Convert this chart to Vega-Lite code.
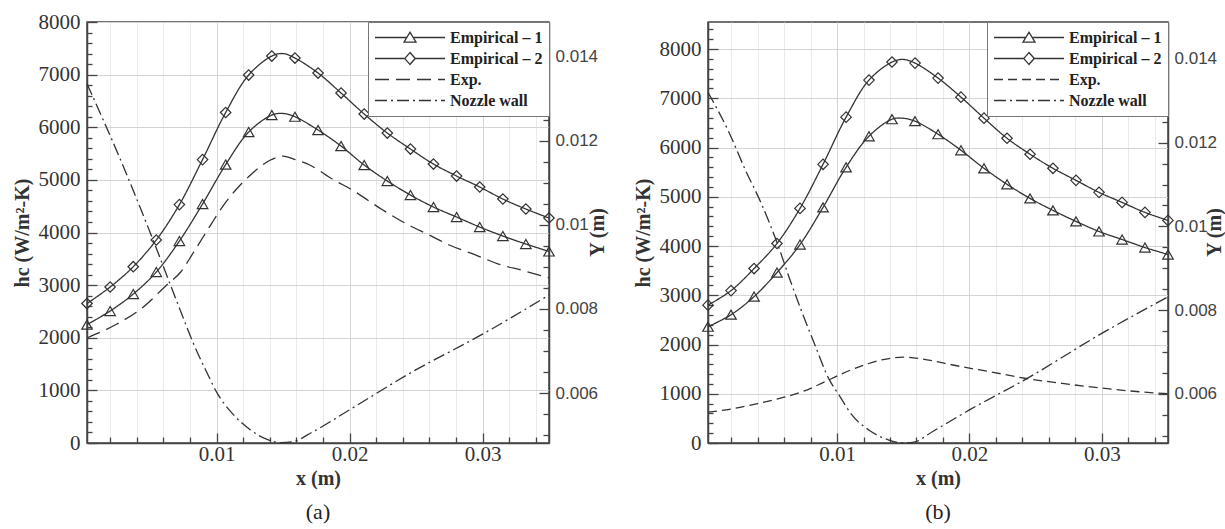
{
  "$schema": "https://vega.github.io/schema/vega-lite/v6.json",
  "padding": {"left": 11, "top": 10, "right": 0, "bottom": 0},
  "background": "white",
  "bounds": "flush",
  "spacing": 159,
  "datasets": {
    "a_hc": [
      {"series": "Empirical – 1", "x": 0.00025, "h": 2250},
      {"series": "Empirical – 1", "x": 0.00199, "h": 2508},
      {"series": "Empirical – 1", "x": 0.00373, "h": 2831},
      {"series": "Empirical – 1", "x": 0.00546, "h": 3249},
      {"series": "Empirical – 1", "x": 0.0072, "h": 3838},
      {"series": "Empirical – 1", "x": 0.00894, "h": 4541},
      {"series": "Empirical – 1", "x": 0.01068, "h": 5290},
      {"series": "Empirical – 1", "x": 0.01241, "h": 5909},
      {"series": "Empirical – 1", "x": 0.01415, "h": 6232},
      {"series": "Empirical – 1", "x": 0.015, "h": 6262},
      {"series": "Empirical – 1", "x": 0.01589, "h": 6200},
      {"series": "Empirical – 1", "x": 0.01763, "h": 5947},
      {"series": "Empirical – 1", "x": 0.01936, "h": 5643},
      {"series": "Empirical – 1", "x": 0.0211, "h": 5282},
      {"series": "Empirical – 1", "x": 0.02284, "h": 4978},
      {"series": "Empirical – 1", "x": 0.02458, "h": 4712},
      {"series": "Empirical – 1", "x": 0.02631, "h": 4484},
      {"series": "Empirical – 1", "x": 0.02805, "h": 4294},
      {"series": "Empirical – 1", "x": 0.02979, "h": 4104},
      {"series": "Empirical – 1", "x": 0.03153, "h": 3933},
      {"series": "Empirical – 1", "x": 0.03326, "h": 3781},
      {"series": "Empirical – 1", "x": 0.035, "h": 3640},
      {"series": "Empirical – 2", "x": 0.00025, "h": 2650},
      {"series": "Empirical – 2", "x": 0.00199, "h": 2964},
      {"series": "Empirical – 2", "x": 0.00373, "h": 3350},
      {"series": "Empirical – 2", "x": 0.00546, "h": 3857},
      {"series": "Empirical – 2", "x": 0.0072, "h": 4530},
      {"series": "Empirical – 2", "x": 0.00894, "h": 5385},
      {"series": "Empirical – 2", "x": 0.01068, "h": 6280},
      {"series": "Empirical – 2", "x": 0.01241, "h": 6992},
      {"series": "Empirical – 2", "x": 0.01415, "h": 7353},
      {"series": "Empirical – 2", "x": 0.015, "h": 7400},
      {"series": "Empirical – 2", "x": 0.01589, "h": 7315},
      {"series": "Empirical – 2", "x": 0.01763, "h": 7030},
      {"series": "Empirical – 2", "x": 0.01936, "h": 6650},
      {"series": "Empirical – 2", "x": 0.0211, "h": 6251},
      {"series": "Empirical – 2", "x": 0.02284, "h": 5890},
      {"series": "Empirical – 2", "x": 0.02458, "h": 5586},
      {"series": "Empirical – 2", "x": 0.02631, "h": 5301},
      {"series": "Empirical – 2", "x": 0.02805, "h": 5073},
      {"series": "Empirical – 2", "x": 0.02979, "h": 4864},
      {"series": "Empirical – 2", "x": 0.03153, "h": 4636},
      {"series": "Empirical – 2", "x": 0.03326, "h": 4446},
      {"series": "Empirical – 2", "x": 0.035, "h": 4275},
      {"series": "Exp.", "x": 0.00025, "h": 1995},
      {"series": "Exp.", "x": 0.0025, "h": 2261},
      {"series": "Exp.", "x": 0.0043, "h": 2546},
      {"series": "Exp.", "x": 0.00625, "h": 3002},
      {"series": "Exp.", "x": 0.0073, "h": 3249},
      {"series": "Exp.", "x": 0.00828, "h": 3629},
      {"series": "Exp.", "x": 0.00955, "h": 4142},
      {"series": "Exp.", "x": 0.01053, "h": 4522},
      {"series": "Exp.", "x": 0.0115, "h": 4826},
      {"series": "Exp.", "x": 0.01255, "h": 5092},
      {"series": "Exp.", "x": 0.01405, "h": 5377},
      {"series": "Exp.", "x": 0.015, "h": 5453},
      {"series": "Exp.", "x": 0.016, "h": 5377},
      {"series": "Exp.", "x": 0.017, "h": 5282},
      {"series": "Exp.", "x": 0.0187, "h": 5016},
      {"series": "Exp.", "x": 0.0202, "h": 4807},
      {"series": "Exp.", "x": 0.0225, "h": 4427},
      {"series": "Exp.", "x": 0.0243, "h": 4161},
      {"series": "Exp.", "x": 0.026, "h": 3952},
      {"series": "Exp.", "x": 0.0275, "h": 3762},
      {"series": "Exp.", "x": 0.0295, "h": 3572},
      {"series": "Exp.", "x": 0.0312, "h": 3400},
      {"series": "Exp.", "x": 0.033, "h": 3280},
      {"series": "Exp.", "x": 0.035, "h": 3140}
    ],
    "a_wall": [
      {"series": "Nozzle wall", "x": 0.00025, "Y": 0.01336},
      {"series": "Nozzle wall", "x": 0.0028, "Y": 0.01153},
      {"series": "Nozzle wall", "x": 0.00505, "Y": 0.00978},
      {"series": "Nozzle wall", "x": 0.0073, "Y": 0.00794},
      {"series": "Nozzle wall", "x": 0.00828, "Y": 0.00716},
      {"series": "Nozzle wall", "x": 0.00925, "Y": 0.0065},
      {"series": "Nozzle wall", "x": 0.01, "Y": 0.00602},
      {"series": "Nozzle wall", "x": 0.01128, "Y": 0.00548},
      {"series": "Nozzle wall", "x": 0.01255, "Y": 0.00512},
      {"series": "Nozzle wall", "x": 0.01375, "Y": 0.0049},
      {"series": "Nozzle wall", "x": 0.0148, "Y": 0.00482},
      {"series": "Nozzle wall", "x": 0.0157, "Y": 0.00484},
      {"series": "Nozzle wall", "x": 0.0172, "Y": 0.00507},
      {"series": "Nozzle wall", "x": 0.02, "Y": 0.0056},
      {"series": "Nozzle wall", "x": 0.0247, "Y": 0.0065},
      {"series": "Nozzle wall", "x": 0.03, "Y": 0.0074},
      {"series": "Nozzle wall", "x": 0.035, "Y": 0.00833}
    ],
    "b_hc": [
      {"series": "Empirical – 1", "x": 0.00025, "h": 2362},
      {"series": "Empirical – 1", "x": 0.00199, "h": 2606},
      {"series": "Empirical – 1", "x": 0.00373, "h": 2973},
      {"series": "Empirical – 1", "x": 0.00546, "h": 3461},
      {"series": "Empirical – 1", "x": 0.0072, "h": 4031},
      {"series": "Empirical – 1", "x": 0.00894, "h": 4785},
      {"series": "Empirical – 1", "x": 0.01068, "h": 5599},
      {"series": "Empirical – 1", "x": 0.01241, "h": 6230},
      {"series": "Empirical – 1", "x": 0.01415, "h": 6576},
      {"series": "Empirical – 1", "x": 0.015, "h": 6595},
      {"series": "Empirical – 1", "x": 0.01589, "h": 6536},
      {"series": "Empirical – 1", "x": 0.01763, "h": 6271},
      {"series": "Empirical – 1", "x": 0.01936, "h": 5945},
      {"series": "Empirical – 1", "x": 0.0211, "h": 5579},
      {"series": "Empirical – 1", "x": 0.02284, "h": 5253},
      {"series": "Empirical – 1", "x": 0.02458, "h": 4968},
      {"series": "Empirical – 1", "x": 0.02631, "h": 4724},
      {"series": "Empirical – 1", "x": 0.02805, "h": 4500},
      {"series": "Empirical – 1", "x": 0.02979, "h": 4296},
      {"series": "Empirical – 1", "x": 0.03153, "h": 4133},
      {"series": "Empirical – 1", "x": 0.03326, "h": 3970},
      {"series": "Empirical – 1", "x": 0.035, "h": 3828},
      {"series": "Empirical – 2", "x": 0.00025, "h": 2800},
      {"series": "Empirical – 2", "x": 0.00199, "h": 3095},
      {"series": "Empirical – 2", "x": 0.00373, "h": 3543},
      {"series": "Empirical – 2", "x": 0.00546, "h": 4052},
      {"series": "Empirical – 2", "x": 0.0072, "h": 4764},
      {"series": "Empirical – 2", "x": 0.00894, "h": 5660},
      {"series": "Empirical – 2", "x": 0.01068, "h": 6617},
      {"series": "Empirical – 2", "x": 0.01241, "h": 7370},
      {"series": "Empirical – 2", "x": 0.01415, "h": 7737},
      {"series": "Empirical – 2", "x": 0.015, "h": 7790},
      {"series": "Empirical – 2", "x": 0.01589, "h": 7716},
      {"series": "Empirical – 2", "x": 0.01763, "h": 7411},
      {"series": "Empirical – 2", "x": 0.01936, "h": 7024},
      {"series": "Empirical – 2", "x": 0.0211, "h": 6597},
      {"series": "Empirical – 2", "x": 0.02284, "h": 6189},
      {"series": "Empirical – 2", "x": 0.02458, "h": 5864},
      {"series": "Empirical – 2", "x": 0.02631, "h": 5579},
      {"series": "Empirical – 2", "x": 0.02805, "h": 5334},
      {"series": "Empirical – 2", "x": 0.02979, "h": 5090},
      {"series": "Empirical – 2", "x": 0.03153, "h": 4886},
      {"series": "Empirical – 2", "x": 0.03326, "h": 4683},
      {"series": "Empirical – 2", "x": 0.035, "h": 4520},
      {"series": "Exp.", "x": 0.00025, "h": 625},
      {"series": "Exp.", "x": 0.002, "h": 690},
      {"series": "Exp.", "x": 0.004, "h": 800},
      {"series": "Exp.", "x": 0.006, "h": 930},
      {"series": "Exp.", "x": 0.0074, "h": 1045},
      {"series": "Exp.", "x": 0.0089, "h": 1220},
      {"series": "Exp.", "x": 0.0104, "h": 1410},
      {"series": "Exp.", "x": 0.012, "h": 1580},
      {"series": "Exp.", "x": 0.0136, "h": 1700},
      {"series": "Exp.", "x": 0.015, "h": 1745},
      {"series": "Exp.", "x": 0.0165, "h": 1705},
      {"series": "Exp.", "x": 0.018, "h": 1625},
      {"series": "Exp.", "x": 0.0195, "h": 1545},
      {"series": "Exp.", "x": 0.0215, "h": 1450},
      {"series": "Exp.", "x": 0.0243, "h": 1310},
      {"series": "Exp.", "x": 0.027, "h": 1210},
      {"series": "Exp.", "x": 0.0298, "h": 1120},
      {"series": "Exp.", "x": 0.032, "h": 1060},
      {"series": "Exp.", "x": 0.035, "h": 1000}
    ],
    "b_wall": [
      {"series": "Nozzle wall", "x": 0.00025, "Y": 0.0132},
      {"series": "Nozzle wall", "x": 0.00183, "Y": 0.01225},
      {"series": "Nozzle wall", "x": 0.00304, "Y": 0.01137},
      {"series": "Nozzle wall", "x": 0.00433, "Y": 0.01051},
      {"series": "Nozzle wall", "x": 0.00553, "Y": 0.00956},
      {"series": "Nozzle wall", "x": 0.00636, "Y": 0.0088},
      {"series": "Nozzle wall", "x": 0.00734, "Y": 0.00796},
      {"series": "Nozzle wall", "x": 0.00833, "Y": 0.00717},
      {"series": "Nozzle wall", "x": 0.00938, "Y": 0.00636},
      {"series": "Nozzle wall", "x": 0.01014, "Y": 0.00598},
      {"series": "Nozzle wall", "x": 0.01112, "Y": 0.0055},
      {"series": "Nozzle wall", "x": 0.0124, "Y": 0.00514},
      {"series": "Nozzle wall", "x": 0.01391, "Y": 0.0049},
      {"series": "Nozzle wall", "x": 0.0149, "Y": 0.00483},
      {"series": "Nozzle wall", "x": 0.0158, "Y": 0.00485},
      {"series": "Nozzle wall", "x": 0.0172, "Y": 0.0051},
      {"series": "Nozzle wall", "x": 0.02, "Y": 0.00562},
      {"series": "Nozzle wall", "x": 0.0243, "Y": 0.00636},
      {"series": "Nozzle wall", "x": 0.0298, "Y": 0.00741},
      {"series": "Nozzle wall", "x": 0.035, "Y": 0.00832}
    ]
  },
  "hconcat": [
    {
      "width": 462,
      "height": 421,
      "title": {"text": "(a)", "orient": "bottom", "frame": "group", "anchor": "middle", "offset": 14, "font": "Liberation Serif", "fontSize": 22, "fontWeight": "normal", "color": "#222"},
      "layer": [
        {
          "data": {"name": "a_hc"},
          "layer": [
            {
              "transform": [{"filter": "datum.series !== 'Exp.'"}],
              "mark": {"type": "line", "interpolate": "catmull-rom", "color": "#333", "strokeWidth": 1.3},
              "encoding": {
                "x": {"field": "x", "type": "quantitative", "scale": {"domain": [0.00025, 0.035], "nice": false, "zero": false},
                  "axis": {"title": "x (m)", "tickCount": 100, "values": [0.002,0.004,0.006,0.008,0.01,0.012,0.014,0.016,0.018,0.02,0.022,0.024,0.026,0.028,0.03,0.032,0.034],
                    "labelExpr": "abs(datum.value*100-round(datum.value*100))<1e-6 ? format(datum.value,'.2~f') : ''",
                    "labelFlush": false, "labelOverlap": false, "labelPadding": 10, "titlePadding": 0,
                    "tickSize": {"condition": {"test": "abs(datum.value*100-round(datum.value*100))<1e-6", "value": -10}, "value": -6},
                    "gridColor": {"condition": {"test": "abs(datum.value*100-round(datum.value*100))<1e-6", "value": "#d4d4d4"}, "value": "#ebebeb"}}},
                "y": {"field": "h", "type": "quantitative", "scale": {"domain": [0, 8000], "nice": false, "zero": false},
                  "axis": {"orient": "left", "title": "hc (W/m²-K)", "tickCount": 100, "values": [0,200,400,600,800,1000,1200,1400,1600,1800,2000,2200,2400,2600,2800,3000,3200,3400,3600,3800,4000,4200,4400,4600,4800,5000,5200,5400,5600,5800,6000,6200,6400,6600,6800,7000,7200,7400,7600,7800,8000],
                    "labelExpr": "datum.value % 1000 === 0 ? format(datum.value,'d') : ''",
                    "labelOverlap": false, "labelPadding": 17, "titlePadding": 6,
                    "tickSize": {"condition": {"test": "datum.value % 1000 === 0", "value": -10}, "value": -5},
                    "gridColor": {"condition": {"test": "datum.value % 1000 === 0", "value": "#d4d4d4"}, "value": "#ebebeb"},
                    "gridOpacity": {"condition": {"test": "datum.value % 500 === 0", "value": 1}, "value": 0}}},
                "strokeDash": {"field": "series", "type": "nominal",
                  "scale": {"domain": ["Empirical – 1", "Empirical – 2", "Exp.", "Nozzle wall"], "range": [[1, 0], [1, 0], [14, 7], [12, 4, 2, 4]]},
                  "legend": {"title": null, "orient": "top-right", "offset": 0, "symbolSize": 4900, "clipHeight": 19,
                    "symbolStrokeWidth": 1.3, "symbolStrokeColor": "#333",
                    "labelFont": "Liberation Serif", "labelFontSize": 16, "labelFontWeight": "bold", "labelColor": "#222", "labelOffset": 4,
                    "padding": 6, "strokeColor": "#777", "fillColor": "white",
                    "encode": {"symbols": {"update": {
                      "shape": {"signal": "datum.value === 'Empirical – 1' ? 'M-1,0H-0.09M0.09,0H1M0,-0.15L0.17,0.13L-0.17,0.13Z' : datum.value === 'Empirical – 2' ? 'M-1,0H-0.15M0.15,0H1M0,-0.17L0.15,0L0,0.17L-0.15,0Z' : 'M-1,0H1'"},
                      "fill": {"value": "transparent"}}}}}}
              }
            },
            {
              "transform": [{"filter": "datum.series === 'Exp.'"}],
              "mark": {"type": "line", "interpolate": "monotone", "color": "#333", "strokeWidth": 1.3},
              "encoding": {
                "x": {"field": "x", "type": "quantitative"},
                "y": {"field": "h", "type": "quantitative"},
                "strokeDash": {"field": "series", "type": "nominal",
                  "scale": {"domain": ["Empirical – 1", "Empirical – 2", "Exp.", "Nozzle wall"], "range": [[1, 0], [1, 0], [14, 7], [12, 4, 2, 4]]}}
              }
            },
            {
              "transform": [{"filter": "datum.series !== 'Exp.' && datum.x !== 0.015"}],
              "mark": {"type": "point", "filled": false, "size": 110, "color": "#333", "strokeWidth": 1.2, "opacity": 1},
              "encoding": {
                "x": {"field": "x", "type": "quantitative"},
                "y": {"field": "h", "type": "quantitative"},
                "shape": {"field": "series", "type": "nominal", "scale": {"domain": ["Empirical – 1", "Empirical – 2"], "range": ["triangle-up", "diamond"]}, "legend": null}
              }
            }
          ]
        },
        {
          "data": {"name": "a_wall"},
          "mark": {"type": "line", "interpolate": "monotone", "color": "#333", "strokeWidth": 1.3},
          "encoding": {
            "x": {"field": "x", "type": "quantitative"},
            "y": {"field": "Y", "type": "quantitative", "scale": {"domain": [0.00481, 0.01483], "nice": false, "zero": false},
              "axis": {"orient": "right", "title": "Y (m)", "titleAngle": 270, "titleBaseline": "middle", "titleX": 48, "titleY": 210, "grid": false, "tickCount": 100,
                "values": [0.005,0.0055,0.006,0.0065,0.007,0.0075,0.008,0.0085,0.009,0.0095,0.01,0.0105,0.011,0.0115,0.012,0.0125,0.013,0.0135,0.014,0.0145],
                "labelExpr": "abs(datum.value*500-round(datum.value*500))<1e-6 ? format(datum.value,'.3~f') : ''",
                "labelOverlap": false, "labelPadding": 16, "labelFont": "Liberation Sans", "labelFontSize": 17, "labelColor": "#444",
                "tickSize": {"condition": {"test": "abs(datum.value*500-round(datum.value*500))<1e-6", "value": -10}, "value": -6}}},
            "strokeDash": {"field": "series", "type": "nominal",
              "scale": {"domain": ["Empirical – 1", "Empirical – 2", "Exp.", "Nozzle wall"], "range": [[1, 0], [1, 0], [14, 7], [12, 4, 2, 4]]}}
          }
        }
      ],
      "resolve": {"scale": {"y": "independent"}, "axis": {"y": "independent"}}
    },
    {
      "width": 460,
      "height": 421,
      "title": {"text": "(b)", "orient": "bottom", "frame": "group", "anchor": "middle", "offset": 14, "font": "Liberation Serif", "fontSize": 22, "fontWeight": "normal", "color": "#222"},
      "layer": [
        {
          "data": {"name": "b_hc"},
          "layer": [
            {
              "transform": [{"filter": "datum.series !== 'Exp.'"}],
              "mark": {"type": "line", "interpolate": "catmull-rom", "color": "#333", "strokeWidth": 1.3},
              "encoding": {
                "x": {"field": "x", "type": "quantitative", "scale": {"domain": [0.00025, 0.035], "nice": false, "zero": false},
                  "axis": {"title": "x (m)", "tickCount": 100, "values": [0.002,0.004,0.006,0.008,0.01,0.012,0.014,0.016,0.018,0.02,0.022,0.024,0.026,0.028,0.03,0.032,0.034],
                    "labelExpr": "abs(datum.value*100-round(datum.value*100))<1e-6 ? format(datum.value,'.2~f') : ''",
                    "labelFlush": false, "labelOverlap": false, "labelPadding": 10, "titlePadding": 0,
                    "tickSize": {"condition": {"test": "abs(datum.value*100-round(datum.value*100))<1e-6", "value": -10}, "value": -6},
                    "gridColor": {"condition": {"test": "abs(datum.value*100-round(datum.value*100))<1e-6", "value": "#d4d4d4"}, "value": "#ebebeb"}}},
                "y": {"field": "h", "type": "quantitative", "scale": {"domain": [0, 8550], "nice": false, "zero": false},
                  "axis": {"orient": "left", "title": "hc (W/m²-K)", "tickCount": 100, "values": [0,200,400,600,800,1000,1200,1400,1600,1800,2000,2200,2400,2600,2800,3000,3200,3400,3600,3800,4000,4200,4400,4600,4800,5000,5200,5400,5600,5800,6000,6200,6400,6600,6800,7000,7200,7400,7600,7800,8000,8200,8400],
                    "labelExpr": "datum.value % 1000 === 0 ? format(datum.value,'d') : ''",
                    "labelOverlap": false, "labelPadding": 17, "titlePadding": 6,
                    "tickSize": {"condition": {"test": "datum.value % 1000 === 0", "value": -10}, "value": -5},
                    "gridColor": {"condition": {"test": "datum.value % 1000 === 0", "value": "#d4d4d4"}, "value": "#ebebeb"},
                    "gridOpacity": {"condition": {"test": "datum.value % 500 === 0", "value": 1}, "value": 0}}},
                "strokeDash": {"field": "series", "type": "nominal",
                  "scale": {"domain": ["Empirical – 1", "Empirical – 2", "Exp.", "Nozzle wall"], "range": [[1, 0], [1, 0], [9, 5], [12, 4, 2, 4]]},
                  "legend": {"title": null, "orient": "top-right", "offset": 0, "symbolSize": 4900, "clipHeight": 19,
                    "symbolStrokeWidth": 1.3, "symbolStrokeColor": "#333",
                    "labelFont": "Liberation Serif", "labelFontSize": 16, "labelFontWeight": "bold", "labelColor": "#222", "labelOffset": 4,
                    "padding": 6, "strokeColor": "#777", "fillColor": "white",
                    "encode": {"symbols": {"update": {
                      "shape": {"signal": "datum.value === 'Empirical – 1' ? 'M-1,0H-0.09M0.09,0H1M0,-0.15L0.17,0.13L-0.17,0.13Z' : datum.value === 'Empirical – 2' ? 'M-1,0H-0.15M0.15,0H1M0,-0.17L0.15,0L0,0.17L-0.15,0Z' : 'M-1,0H1'"},
                      "fill": {"value": "transparent"}}}}}}
              }
            },
            {
              "transform": [{"filter": "datum.series === 'Exp.'"}],
              "mark": {"type": "line", "interpolate": "monotone", "color": "#333", "strokeWidth": 1.3},
              "encoding": {
                "x": {"field": "x", "type": "quantitative"},
                "y": {"field": "h", "type": "quantitative"},
                "strokeDash": {"field": "series", "type": "nominal",
                  "scale": {"domain": ["Empirical – 1", "Empirical – 2", "Exp.", "Nozzle wall"], "range": [[1, 0], [1, 0], [9, 5], [12, 4, 2, 4]]}}
              }
            },
            {
              "transform": [{"filter": "datum.series !== 'Exp.' && datum.x !== 0.015"}],
              "mark": {"type": "point", "filled": false, "size": 110, "color": "#333", "strokeWidth": 1.2, "opacity": 1},
              "encoding": {
                "x": {"field": "x", "type": "quantitative"},
                "y": {"field": "h", "type": "quantitative"},
                "shape": {"field": "series", "type": "nominal", "scale": {"domain": ["Empirical – 1", "Empirical – 2"], "range": ["triangle-up", "diamond"]}, "legend": null}
              }
            }
          ]
        },
        {
          "data": {"name": "b_wall"},
          "mark": {"type": "line", "interpolate": "monotone", "color": "#333", "strokeWidth": 1.3},
          "encoding": {
            "x": {"field": "x", "type": "quantitative"},
            "y": {"field": "Y", "type": "quantitative", "scale": {"domain": [0.00483, 0.01488], "nice": false, "zero": false},
              "axis": {"orient": "right", "title": "Y (m)", "titleAngle": 270, "titleBaseline": "middle", "titleX": 46, "titleY": 210, "grid": false, "tickCount": 100,
                "values": [0.005,0.0055,0.006,0.0065,0.007,0.0075,0.008,0.0085,0.009,0.0095,0.01,0.0105,0.011,0.0115,0.012,0.0125,0.013,0.0135,0.014,0.0145],
                "labelExpr": "abs(datum.value*500-round(datum.value*500))<1e-6 ? format(datum.value,'.3~f') : ''",
                "labelOverlap": false, "labelPadding": 16, "labelFont": "Liberation Sans", "labelFontSize": 17, "labelColor": "#444",
                "tickSize": {"condition": {"test": "abs(datum.value*500-round(datum.value*500))<1e-6", "value": -10}, "value": -6}}},
            "strokeDash": {"field": "series", "type": "nominal",
              "scale": {"domain": ["Empirical – 1", "Empirical – 2", "Exp.", "Nozzle wall"], "range": [[1, 0], [1, 0], [9, 5], [12, 4, 2, 4]]}}
          }
        }
      ],
      "resolve": {"scale": {"y": "independent"}, "axis": {"y": "independent"}}
    }
  ],
  "resolve": {"scale": {"strokeDash": "independent", "shape": "independent"}, "legend": {"strokeDash": "independent", "shape": "independent"}},
  "config": {
    "view": {"stroke": "#444", "strokeWidth": 1.5},
    "axis": {"domainColor": "#444", "domainWidth": 1.5, "tickColor": "#444", "tickWidth": 1.3, "labelOverlap": false,
      "labelColor": "#333", "titleColor": "#333", "labelFont": "Liberation Serif", "titleFont": "Liberation Serif",
      "labelFontSize": 21, "titleFontSize": 20, "titleFontWeight": "bold"}
  }
}
